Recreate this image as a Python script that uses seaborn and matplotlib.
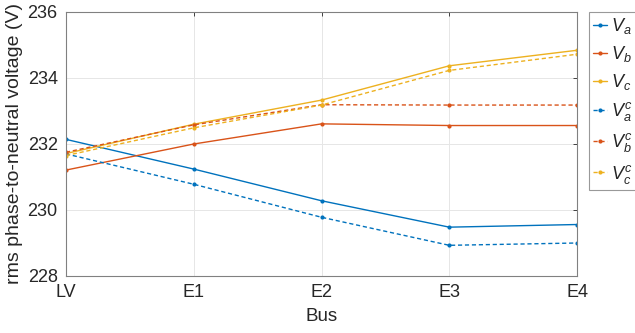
import matplotlib
matplotlib.use("Agg")
import matplotlib.pyplot as plt
import seaborn as sns
import pandas as pd

buses = ["LV", "E1", "E2", "E3", "E4"]
Va = [232.14, 231.24, 230.28, 229.48, 229.56]
Vb = [231.21, 232.00, 232.61, 232.56, 232.56]
Vc = [231.71, 232.60, 233.33, 234.37, 234.84]
Va_c = [231.70, 230.78, 229.78, 228.93, 229.00]
Vb_c = [231.75, 232.58, 233.19, 233.18, 233.18]
Vc_c = [231.65, 232.49, 233.18, 234.23, 234.72]

series = [
    ("$V_a$", Va, "#0072BD", "-"),
    ("$V_b$", Vb, "#D95319", "-"),
    ("$V_c$", Vc, "#EDB120", "-"),
    ("$V_a^c$", Va_c, "#0072BD", (0, (3, 2))),
    ("$V_b^c$", Vb_c, "#D95319", (0, (3, 2))),
    ("$V_c^c$", Vc_c, "#EDB120", (0, (3, 2))),
]

sns.set_style("white")
plt.rcParams["font.family"] = ["Liberation Sans", "DejaVu Sans"]
plt.rcParams["mathtext.fontset"] = "custom"
plt.rcParams["mathtext.it"] = "Liberation Sans:italic"
plt.rcParams["mathtext.rm"] = "Liberation Sans"

fig = plt.figure(figsize=(6.35, 3.33), dpi=100)
ax = fig.add_axes([66/635, 1-276/333, (577-66)/635, (276-12)/333])

xs = list(range(len(buses)))
for label, vals, color, ls in series:
    df = pd.DataFrame({"x": xs, "y": vals})
    sns.lineplot(data=df, x="x", y="y", ax=ax, color=color, linestyle=ls,
                 linewidth=1.0, marker="o", markersize=3, markeredgewidth=0,
                 label=label)

ax.set_xlim(0, 4)
ax.set_ylim(228, 236)
ax.set_xticks(xs)
ax.set_xticklabels(buses)
ax.set_yticks([228, 230, 232, 234, 236])
ax.tick_params(axis="both", labelsize=13, colors="#262626", direction="in",
               length=3, top=True, right=True, width=0.6, pad=6)
for t in ax.get_xticklabels() + ax.get_yticklabels():
    t.set_color("#262626")
ax.grid(True, color="#e6e6e6", linewidth=0.7)
for s in ax.spines.values():
    s.set_color("#808080")
    s.set_linewidth(0.8)
ax.set_xlabel("Bus", fontsize=13.5, color="#262626", labelpad=5)
ax.set_ylabel("rms phase-to-neutral voltage (V)", fontsize=14, color="#262626", labelpad=3)

leg = ax.legend(loc="upper left", bbox_to_anchor=(589/635, 1-12/333),
                bbox_transform=fig.transFigure, borderaxespad=0,
                fontsize=13, handlelength=0.8, handletextpad=0.2,
                labelspacing=0.45, borderpad=0.22, frameon=True, fancybox=False)
leg.get_frame().set_edgecolor("#808080")
leg.get_frame().set_linewidth(0.8)

fig.savefig("out.png", dpi=100)
